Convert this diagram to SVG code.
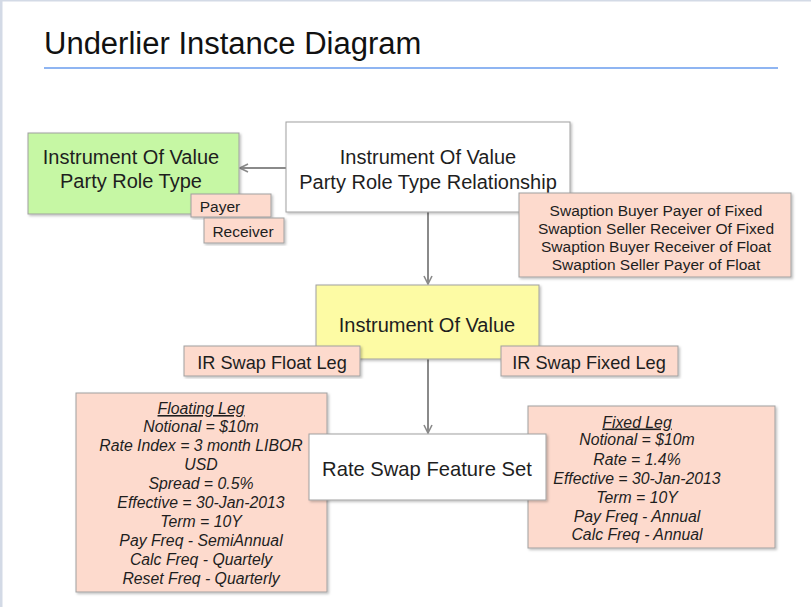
<svg xmlns="http://www.w3.org/2000/svg" width="811" height="607" viewBox="0 0 811 607">
<style>
text{font-family:"Liberation Sans",Arial,sans-serif;fill:#1e1e1e;text-anchor:middle}
.big{font-size:20px}
.sm{font-size:15.5px}
.it{font-size:15.8px;font-style:italic}
.box{stroke:#a0a0a0;stroke-width:1}
.pink{fill:#fddacd}
.wh{fill:#ffffff}
.conn{stroke:#8a8a8a;stroke-width:2;fill:none}
</style>
<defs>
<filter id="sh" x="-5%" y="-5%" width="112%" height="115%">
<feDropShadow dx="1.5" dy="1.5" stdDeviation="1" flood-color="#000" flood-opacity="0.25"/>
</filter>
<marker id="ah" viewBox="0 0 10 10" refX="9" refY="5" markerWidth="10" markerHeight="10" markerUnits="userSpaceOnUse" orient="auto">
<path d="M1,1 L9,5 L1,9" fill="none" stroke="#8a8a8a" stroke-width="1.6"/>
</marker>
</defs>
<rect x="0" y="0" width="811" height="607" fill="#ffffff"/>
<rect x="0" y="0" width="811" height="1.5" fill="#d3dae6"/>
<rect x="0" y="0" width="2.5" height="607" fill="#d3dae6"/>
<text x="44" y="54" style="font-size:31px;text-anchor:start;fill:#111">Underlier Instance Diagram</text>
<rect x="44" y="67" width="734" height="2" fill="#8fb5f2"/>

<g id="connectors">
<line class="conn" x1="286" y1="168" x2="240" y2="168" marker-end="url(#ah)"/>
<line class="conn" x1="428" y1="212" x2="428" y2="284" marker-end="url(#ah)"/>
<line class="conn" x1="428" y1="359" x2="428" y2="433" marker-end="url(#ah)"/>
</g>

<g id="node-iov-prt">
<rect class="box" x="28" y="133" width="211" height="81" fill="#c6f7a4" filter="url(#sh)"/>
<text class="big" x="131" y="164">Instrument Of Value</text>
<text class="big" x="131" y="188">Party Role Type</text>
</g>
<g id="label-payer">
<rect class="box pink" x="191" y="194" width="80" height="23" filter="url(#sh)"/>
<text class="sm" x="220" y="212">Payer</text>
</g>
<g id="label-receiver">
<rect class="box pink" x="204" y="218" width="80" height="25" filter="url(#sh)"/>
<text class="sm" x="243" y="237">Receiver</text>
</g>

<g id="node-iov-prtr">
<rect class="box wh" x="286" y="122" width="284" height="90" filter="url(#sh)"/>
<text class="big" x="428" y="164">Instrument Of Value</text>
<text class="big" x="428" y="189">Party Role Type Relationship</text>
</g>
<g id="label-swaption">
<rect class="box pink" x="519" y="193" width="272" height="84" filter="url(#sh)"/>
<text class="sm" x="656" y="215.5">Swaption Buyer Payer of Fixed</text>
<text class="sm" x="656" y="233.5">Swaption Seller Receiver Of Fixed</text>
<text class="sm" x="656" y="251.5">Swaption Buyer Receiver of Float</text>
<text class="sm" x="656" y="269.5">Swaption Seller Payer of Float</text>
</g>

<g id="node-iov">
<rect class="box" x="316" y="285" width="223" height="74" fill="#fdfba4" filter="url(#sh)"/>
<text class="big" x="427" y="332">Instrument Of Value</text>
</g>
<g id="label-float">
<rect class="box pink" x="184" y="346" width="176" height="30" filter="url(#sh)"/>
<text class="big" x="272" y="368.5" style="font-size:18.2px">IR Swap Float Leg</text>
</g>
<g id="label-fixed">
<rect class="box pink" x="501" y="346" width="177" height="30" filter="url(#sh)"/>
<text class="big" x="589" y="368.5" style="font-size:18.2px">IR Swap Fixed Leg</text>
</g>

<g id="node-floating-leg">
<rect class="box pink" x="76" y="393" width="251" height="199" filter="url(#sh)"/>
<text class="it" x="201" y="414" text-decoration="underline">Floating Leg</text>
<text class="it" x="201" y="432">Notional = $10m</text>
<text class="it" x="201" y="451">Rate Index = 3 month LIBOR</text>
<text class="it" x="201" y="470">USD</text>
<text class="it" x="201" y="489">Spread = 0.5%</text>
<text class="it" x="201" y="508">Effective = 30-Jan-2013</text>
<text class="it" x="201" y="527">Term = 10Y</text>
<text class="it" x="201" y="546">Pay Freq - SemiAnnual</text>
<text class="it" x="201" y="565">Calc Freq - Quartely</text>
<text class="it" x="201" y="584">Reset Freq - Quarterly</text>
</g>

<g id="node-fixed-leg">
<rect class="box pink" x="528" y="406" width="247" height="142" filter="url(#sh)"/>
<text class="it" x="637" y="427.5" text-decoration="underline">Fixed Leg</text>
<text class="it" x="637" y="445">Notional = $10m</text>
<text class="it" x="637" y="465">Rate = 1.4%</text>
<text class="it" x="637" y="484">Effective = 30-Jan-2013</text>
<text class="it" x="637" y="503">Term = 10Y</text>
<text class="it" x="637" y="521.5">Pay Freq - Annual</text>
<text class="it" x="637" y="540">Calc Freq - Annual</text>
</g>

<g id="node-rsfs">
<rect class="box wh" x="309" y="434" width="237" height="66" filter="url(#sh)"/>
<text class="big" x="427" y="476" style="font-size:20.2px">Rate Swap Feature Set</text>
</g>
</svg>
